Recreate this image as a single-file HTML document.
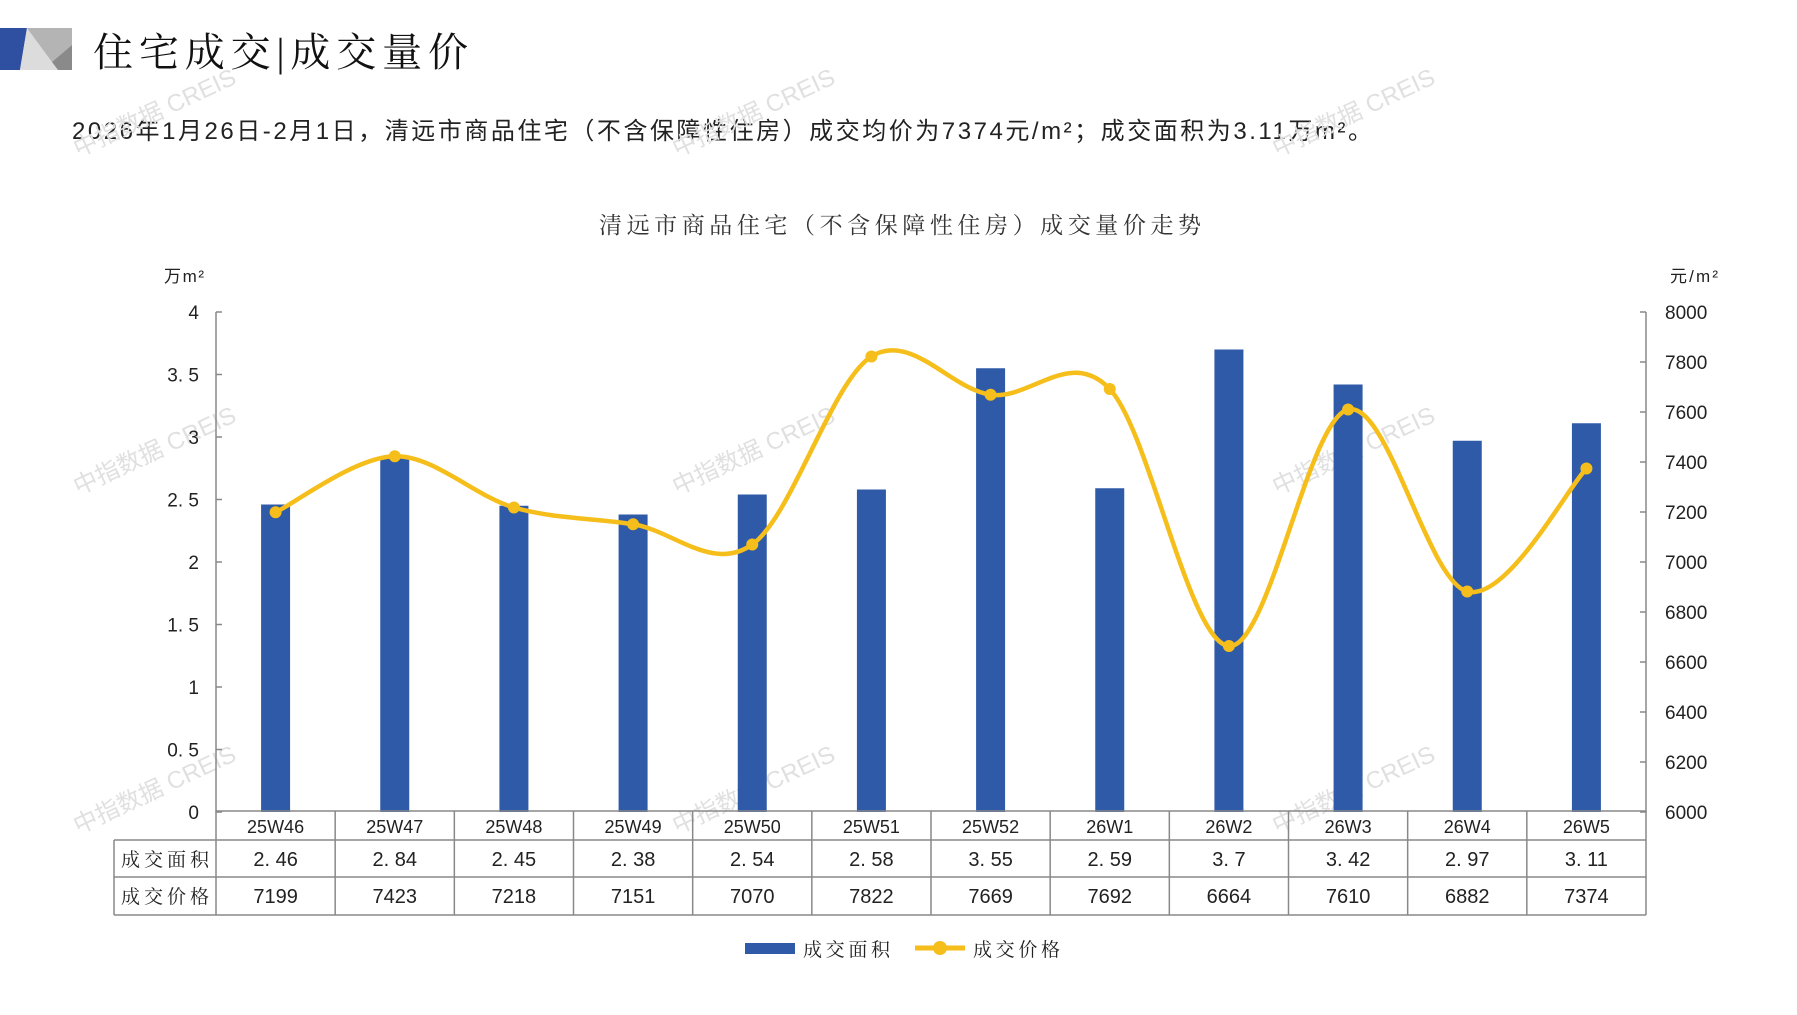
<!DOCTYPE html>
<html><head><meta charset="utf-8">
<style>
body{margin:0;background:#fff;}
svg text{font-family:"Liberation Sans","Noto Sans CJK SC",sans-serif;}
.serif{font-family:"Liberation Serif","Noto Serif CJK SC",serif !important;}
</style></head>
<body>
<svg id="s" width="1797" height="1010" xmlns="http://www.w3.org/2000/svg">
<rect width="1797" height="1010" fill="#fff"/>
<polygon points="0,28 27,28 20,70 0,70" fill="#2f4fa0"/>
<polygon points="27,28 72,28 72,70 20,70" fill="#dcdcdc"/>
<polygon points="27,28 72,28 72,45 52,62" fill="#b4b4b4"/>
<polygon points="52,62 72,45 72,70 58,70" fill="#8a8a8a"/>
<text x="93" y="66" font-size="40" class="serif" fill="#111" textLength="375" lengthAdjust="spacing">住宅成交|成交量价</text>
<text x="72" y="139" font-size="24" fill="#222" textLength="1300" lengthAdjust="spacing">2026年1月26日-2月1日，清远市商品住宅（不含保障性住房）成交均价为7374元/m²；成交面积为3.11万m²。</text>
<text x="599" y="233" font-size="23" fill="#333" class="serif" textLength="602" lengthAdjust="spacing">清远市商品住宅（不含保障性住房）成交量价走势</text>
<text x="164" y="282" font-size="17" fill="#222" textLength="40" lengthAdjust="spacing">万m²</text>
<text x="1670" y="282" font-size="17" fill="#222" textLength="48" lengthAdjust="spacing">元/m²</text>
<g id="g"></g>
</svg>
<script>
var g=document.getElementById('g'),h='';
var area=[2.46,2.84,2.45,2.38,2.54,2.58,3.55,2.59,3.7,3.42,2.97,3.11];
var price=[7199,7423,7218,7151,7070,7822,7669,7692,6664,7610,6882,7374];
var lab=['25W46','25W47','25W48','25W49','25W50','25W51','25W52','26W1','26W2','26W3','26W4','26W5'];
var L=216,R=1646,T=312,B=812,cw=(R-L)/12;
[[158,120],[757,120],[1357,120],[158,458],[757,458],[1357,458],[158,797],[757,797],[1357,797]].forEach(function(p){
h+='<text x="'+p[0]+'" y="'+p[1]+'" font-size="24" fill="#e0e0e0" text-anchor="middle" transform="rotate(-25 '+p[0]+' '+p[1]+')">中指数据 CREIS</text>';});
h+='<line x1="'+L+'" y1="'+T+'" x2="'+L+'" y2="'+B+'" stroke="#888" stroke-width="1.5"/>';
h+='<line x1="'+R+'" y1="'+T+'" x2="'+R+'" y2="'+B+'" stroke="#888" stroke-width="1.5"/>';
for(var i=0;i<=8;i++){var y=B-(B-T)*i/8;
h+='<line x1="'+L+'" y1="'+y+'" x2="'+(L+6)+'" y2="'+y+'" stroke="#888" stroke-width="1.5"/>';
var lv=(i*0.5); var ls=(i%2==0)?String(lv):lv.toFixed(1).replace('.','. ');
h+='<text x="199" y="'+(y+7)+'" font-size="19" text-anchor="end" fill="#222">'+ls+'</text>';}
for(var i=0;i<=10;i++){var y=B-(B-T)*i/10;
h+='<line x1="'+(R-6)+'" y1="'+y+'" x2="'+R+'" y2="'+y+'" stroke="#888" stroke-width="1.5"/>';
h+='<text x="1665" y="'+(y+7)+'" font-size="19" fill="#222">'+(6000+200*i)+'</text>';}
for(var i=0;i<12;i++){var cx=L+cw*(i+0.5),bh=area[i]*125;
h+='<rect x="'+(cx-14.5)+'" y="'+(B-bh)+'" width="29" height="'+bh+'" fill="#2f5aa8"/>';}
var P=price.map(function(p,i){return [L+cw*(i+0.5),B-(p-6000)*(B-T)/2000];});
var d='M'+P[0][0]+','+P[0][1];
for(var i=0;i<11;i++){var p0=P[Math.max(i-1,0)],p1=P[i],p2=P[i+1],p3=P[Math.min(i+2,11)];
var c1=[p1[0]+(p2[0]-p0[0])/6,p1[1]+(p2[1]-p0[1])/6],c2=[p2[0]-(p3[0]-p1[0])/6,p2[1]-(p3[1]-p1[1])/6];
d+=' C'+c1+' '+c2+' '+p2;}
h+='<path d="'+d+'" fill="none" stroke="#f5be1a" stroke-width="4.5"/>';
P.forEach(function(p){h+='<circle cx="'+p[0]+'" cy="'+p[1]+'" r="6" fill="#f5be1a"/>';});
var TL=114;
h+='<g stroke="#888" stroke-width="1.5" fill="none">';
h+='<line x1="'+L+'" y1="811" x2="'+R+'" y2="811"/>';
[840,877,915].forEach(function(y){h+='<line x1="'+TL+'" y1="'+y+'" x2="'+R+'" y2="'+y+'"/>';});
h+='<line x1="'+TL+'" y1="840" x2="'+TL+'" y2="915"/>';
for(var i=0;i<=12;i++){var x=L+cw*i;h+='<line x1="'+x+'" y1="811" x2="'+x+'" y2="915"/>';}
h+='</g>';
h+='<text x="121" y="866" font-size="19" class="serif" fill="#222" textLength="88" lengthAdjust="spacing">成交面积</text>';
h+='<text x="121" y="903" font-size="19" class="serif" fill="#222" textLength="88" lengthAdjust="spacing">成交价格</text>';
for(var i=0;i<12;i++){var cx=L+cw*(i+0.5);
h+='<text x="'+cx+'" y="833" font-size="18" text-anchor="middle" fill="#222">'+lab[i]+'</text>';
h+='<text x="'+cx+'" y="866" font-size="20" text-anchor="middle" fill="#222">'+String(area[i]).replace('.','. ')+'</text>';
h+='<text x="'+cx+'" y="903" font-size="20" text-anchor="middle" fill="#222">'+price[i]+'</text>';}
h+='<rect x="745" y="943" width="50" height="11" fill="#2f5aa8"/>';
h+='<text x="803" y="956" font-size="19" class="serif" fill="#222" textLength="87" lengthAdjust="spacing">成交面积</text>';
h+='<line x1="915" y1="948" x2="965" y2="948" stroke="#f5be1a" stroke-width="5"/><circle cx="940" cy="948" r="7" fill="#f5be1a"/>';
h+='<text x="973" y="956" font-size="19" class="serif" fill="#222" textLength="87" lengthAdjust="spacing">成交价格</text>';
g.innerHTML=h;
</script>
</body></html>
